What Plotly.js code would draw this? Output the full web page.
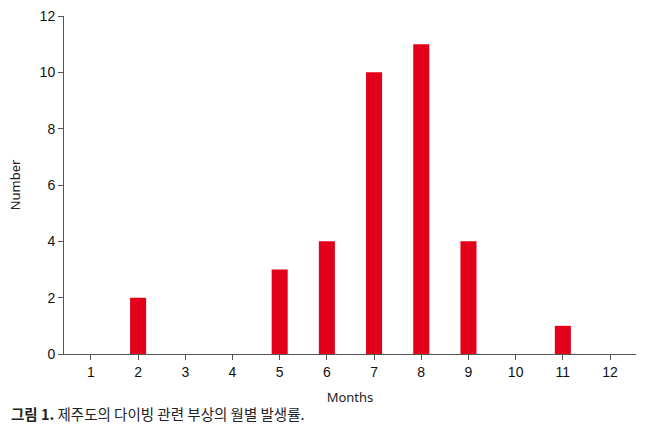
<!DOCTYPE html>
<html>
<head>
<meta charset="utf-8">
<script src="https://cdn.plot.ly/plotly-3.0.1.min.js"></script>
<style>
  body { margin: 0; background: #fff; }
  #chart { width: 658px; height: 438px; }
</style>
</head>
<body>
<div id="chart"></div>
<script>
// monthly counts of diving-related injuries
let months = [1, 2, 3, 4, 5, 6, 7, 8, 9, 10, 11, 12]
let counts = [0, 2, 0, 0, 3, 4, 10, 11, 4, 0, 1, 0]
let yTicks = [0, 2, 4, 6, 8, 10, 12]

let data = {
    x: months,
    y: counts,
    type: 'bar',
    width: 0.34,
    marker: { color: '#e2001a' },
    hoverinfo: 'x+y'
}

let axisFont = { family: 'Liberation Sans, Arial, sans-serif', size: 14, color: '#111' }

let layout = {
    width: 658,
    height: 438,
    margin: { l: 64, r: 22, t: 16, b: 84 },
    paper_bgcolor: '#fff',
    plot_bgcolor: '#fff',
    showlegend: false,
    xaxis: {
        range: [0.43, 12.55],
        tickvals: months,
        ticktext: months.map(String),
        ticks: 'outside',
        ticklen: 5,
        tickcolor: '#555',
        showline: true,
        linecolor: '#555',
        linewidth: 1,
        showgrid: false,
        zeroline: false,
        tickfont: axisFont,
        title: { text: 'Months', font: { family: 'Noto Sans, sans-serif', size: 13, color: '#222' }, standoff: 14 }
    },
    yaxis: {
        range: [0, 12],
        tickvals: yTicks,
        ticks: 'outside',
        ticklen: 5,
        tickcolor: '#555',
        showline: true,
        linecolor: '#555',
        linewidth: 1,
        showgrid: false,
        zeroline: false,
        tickfont: axisFont,
        title: { text: 'Number', font: { family: 'Noto Sans, sans-serif', size: 13, color: '#222' }, standoff: 16 }
    },
    annotations: [{
        xref: 'paper', yref: 'paper',
        x: -0.097, y: -0.175,
        xanchor: 'left', yanchor: 'middle',
        showarrow: false,
        align: 'left',
        text: '<b>그림 1.</b> 제주도의 다이빙 관련 부상의 월별 발생률.',
        font: { family: 'Noto Sans CJK KR, sans-serif', size: 14.5, color: '#222' }
    }]
}

Plotly.newPlot('chart', [data], layout, { displayModeBar: false, staticPlot: true })
</script>
</body>
</html>
